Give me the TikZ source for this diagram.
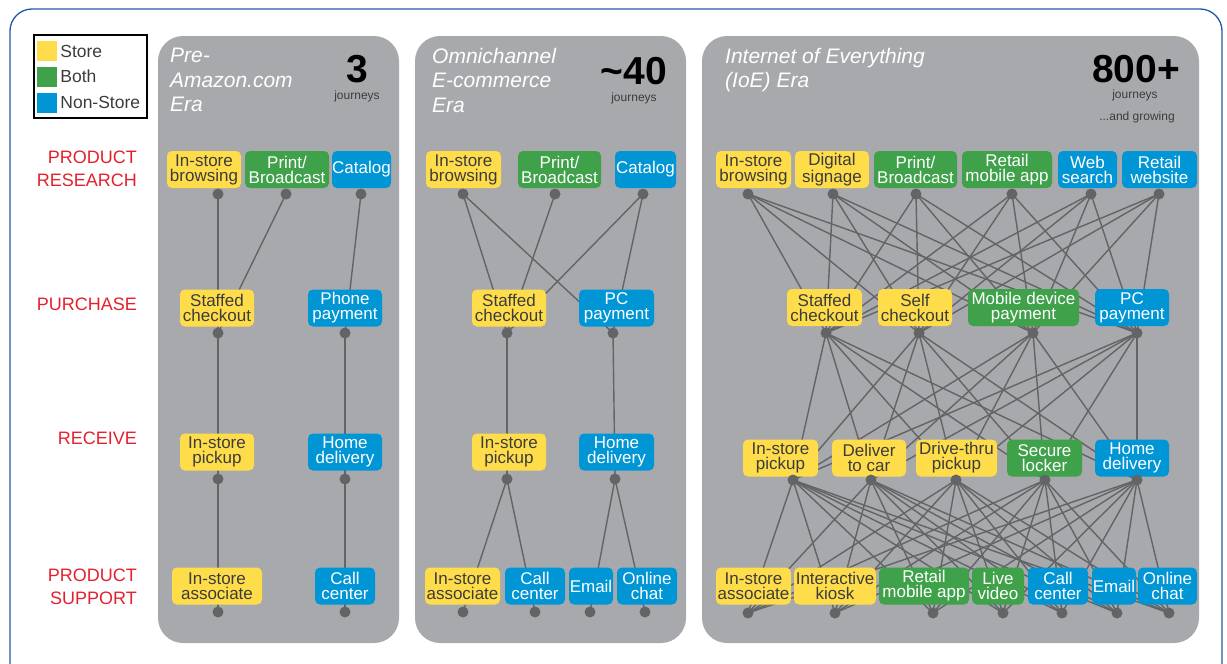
\documentclass[tikz,border=0pt]{standalone}
\usepackage{fontspec}
\setmainfont{Liberation Sans}
\usetikzlibrary{positioning}
\definecolor{storeyellow}{HTML}{FFDD4A}
\definecolor{bothgreen}{HTML}{3FA14A}
\definecolor{nonblue}{HTML}{0096D6}
\definecolor{panelgray}{HTML}{A7A9AC}
\definecolor{dotgray}{HTML}{636466}
\definecolor{stagered}{HTML}{E4202E}
\definecolor{framecol}{HTML}{2457A6}
\definecolor{boxtext}{HTML}{3C3C3C}
\pgfdeclarelayer{back}
\pgfdeclarelayer{edges}
\pgfsetlayers{back,edges,main}
\tikzset{
  box/.style={rounded corners=5pt, minimum height=37, inner sep=0pt, align=center,
    font=\fontsize{17}{15}\selectfont},
  store/.style={box, fill=storeyellow, text=boxtext},
  both/.style={box, fill=bothgreen, text=white},
  nonstore/.style={box, fill=nonblue, text=white},
  dot/.style={circle, fill=dotgray, inner sep=0pt, minimum size=11},
  link/.style={draw=dotgray, line width=1.4pt},
  panel/.style={fill=panelgray, rounded corners=25pt},
  stagelabel/.style={text=stagered, align=right, anchor=east, inner sep=0pt,
    font=\fontsize{18}{23}\selectfont},
  era/.style={anchor=north west, align=left, text=white, inner sep=0pt,
    font=\itshape\fontsize{21}{24.5}\selectfont},
  count/.style={inner sep=0pt, text=black, font=\bfseries\fontsize{39}{39}\selectfont},
  journeys/.style={inner sep=0pt, text=boxtext, font=\fontsize{12}{12}\selectfont},
  legendkey/.style={minimum size=20, inner sep=0pt},
  legendtext/.style={inner sep=0pt, text=boxtext, font=\fontsize{17.5}{17.5}\selectfont}
}
\begin{document}
\begin{tikzpicture}[x=1pt,y=-1pt]
  \useasboundingbox (0,0) rectangle (1227,664);
  \clip (0,0) rectangle (1227,664);
  %% outer frame
  \draw[framecol, line width=1.3pt, rounded corners=22pt] (10,9) rectangle (1222,720);
  %% legend
  \draw[line width=2pt] (34,35) rectangle (147,118);
  \node[legendkey, fill=storeyellow] (keystore) at (47,51) {};
  \node[legendkey, fill=bothgreen] (keyboth) at (47,76.5) {};
  \node[legendkey, fill=nonblue] (keynon) at (47,102.5) {};
  \node[legendtext, right=3pt of keystore] (txtstore) {Store};
  \node[legendtext, right=3pt of keyboth] (txtboth) {Both};
  \node[legendtext, right=3pt of keynon] (txtnon) {Non-Store};
  %% stage labels
  \node[stagelabel] (research) at (137,168.5) {PRODUCT\\RESEARCH};
  \node[stagelabel] (purchase) at (137,304) {PURCHASE};
  \node[stagelabel] (receive) at (137,438) {RECEIVE};
  \node[stagelabel] (support) at (137,586.5) {PRODUCT\\SUPPORT};
  %% panels
  \begin{pgfonlayer}{back}
    \fill[panel] (158,36) rectangle (399,643);
    \fill[panel] (415,36) rectangle (686,643);
    \fill[panel] (702,36) rectangle (1199,643);
  \end{pgfonlayer}
  %% era titles and counts
  \node[era] (era1) at (170,48) {Pre-\\Amazon.com\\Era};
  \node[era] (era2) at (432,48) {Omnichannel\\E-commerce\\Era};
  \node[era] (era3) at (725,48) {Internet of Everything\\(IoE) Era};
  \node[count] (num1) at (357,69) {3};
  \node[journeys] (jour1) at (357,96) {journeys};
  \node[count] (num2) at (634,71) {\textasciitilde40};
  \node[journeys] (jour2) at (634,98) {journeys};
  \node[count] (num3) at (1136,69) {800+};
  \node[journeys] (jour3) at (1135,95) {journeys};
  \node[journeys] (grow3) at (1137,117) {...and growing};
  %% pre-Amazon.com era
  \node[store, minimum width=74] (p1a) at (204,169.5) {In-store\\browsing};
  \node[both, minimum width=84] (p1b) at (287,169.5) {Print/\\Broadcast};
  \node[nonstore, minimum width=59] (p1c) at (361.5,169.5) {Catalog};
  \node[store, minimum width=74] (p1d) at (217,308) {Staffed\\checkout};
  \node[nonstore, minimum width=74] (p1e) at (345,308) {Phone\\payment};
  \node[store, minimum width=74] (p1f) at (217,452) {In-store\\pickup};
  \node[nonstore, minimum width=74] (p1g) at (345,452) {Home\\delivery};
  \node[store, minimum width=90] (p1h) at (217,586) {In-store\\associate};
  \node[nonstore, minimum width=60] (p1i) at (345,586) {Call\\center};
  %% omnichannel era
  \node[store, minimum width=75] (p2a) at (463.5,169.5) {In-store\\browsing};
  \node[both, minimum width=83] (p2b) at (559.5,169.5) {Print/\\Broadcast};
  \node[nonstore, minimum width=61] (p2c) at (645.5,169.5) {Catalog};
  \node[store, minimum width=74] (p2d) at (509,308) {Staffed\\checkout};
  \node[nonstore, minimum width=75] (p2e) at (616.5,308) {PC\\payment};
  \node[store, minimum width=74] (p2f) at (509,452) {In-store\\pickup};
  \node[nonstore, minimum width=75] (p2g) at (616.5,452) {Home\\delivery};
  \node[store, minimum width=75] (p2h) at (462.5,586) {In-store\\associate};
  \node[nonstore, minimum width=60] (p2i) at (535,586) {Call\\center};
  \node[nonstore, minimum width=44] (p2j) at (591,586) {Email};
  \node[nonstore, minimum width=60] (p2k) at (647,586) {Online\\chat};
  %% IoE era
  \node[store, minimum width=75] (p3a) at (753.5,169.5) {In-store\\browsing};
  \node[store, minimum width=74] (p3b) at (832,169.5) {Digital\\signage};
  \node[both, minimum width=83] (p3c) at (915.5,169.5) {Print/\\Broadcast};
  \node[both, minimum width=90] (p3d) at (1007,169.5) {Retail\\mobile app};
  \node[nonstore, minimum width=59] (p3e) at (1087.5,169.5) {Web\\search};
  \node[nonstore, minimum width=75] (p3f) at (1159.5,169.5) {Retail\\website};
  \node[store, minimum width=75] (p3g) at (824.5,307.5) {Staffed\\checkout};
  \node[store, minimum width=74] (p3h) at (915,307.5) {Self\\checkout};
  \node[both, minimum width=111] (p3i) at (1023.5,307.5) {Mobile device\\payment};
  \node[nonstore, minimum width=74] (p3j) at (1132,307.5) {PC\\payment};
  \node[store, minimum width=75] (p3k) at (780.5,458) {In-store\\pickup};
  \node[store, minimum width=74] (p3l) at (869,458) {Deliver\\to car};
  \node[store, minimum width=81] (p3m) at (956.5,458) {Drive-thru\\pickup};
  \node[both, minimum width=75] (p3n) at (1044.5,458) {Secure\\locker};
  \node[nonstore, minimum width=74] (p3o) at (1132,458) {Home\\delivery};
  \node[store, minimum width=75] (p3p) at (753.5,586) {In-store\\associate};
  \node[store, minimum width=82] (p3q) at (835,586) {Interactive\\kiosk};
  \node[both, minimum width=90] (p3r) at (924,586) {Retail\\mobile app};
  \node[both, minimum width=52] (p3s) at (998,586) {Live\\video};
  \node[nonstore, minimum width=60] (p3t) at (1058,586) {Call\\center};
  \node[nonstore, minimum width=44] (p3u) at (1114,586) {Email};
  \node[nonstore, minimum width=59] (p3v) at (1167.5,586) {Online\\chat};
  %% dots under the boxes
  \foreach \n/\x/\y in {p1a/218/194, p1b/286/194, p1c/361/194, p1d/218/333, p1e/345/333,
      p1f/218/479, p1g/345/479, p1h/218/612, p1i/345/612,
      p2a/463/194, p2b/555/194, p2c/643/194, p2d/507/333, p2e/613/333,
      p2f/507/479, p2g/615/479, p2h/463/612, p2i/535/612, p2j/590/612, p2k/645/612,
      p3a/748/194, p3b/833/194, p3c/916/194, p3d/1012/194, p3e/1091/194, p3f/1159/194,
      p3g/826/333, p3h/919/333, p3i/1033/333, p3j/1137/333,
      p3k/793/480, p3l/871/480, p3m/956/480, p3n/1045/480, p3o/1137/480,
      p3p/748/613, p3q/835/613, p3r/933/613, p3s/1003/613, p3t/1062/613, p3u/1117/613, p3v/1169/613}
    \node[dot] (\n-d) at (\x,\y) {};
  %% journeys
  \begin{pgfonlayer}{edges}
    \foreach \s/\t in {p1a/p1d, p1b/p1d, p1c/p1e, p1d/p1f, p1e/p1g, p1f/p1h, p1g/p1i,
        p2a/p2d, p2a/p2e, p2b/p2d, p2c/p2d, p2c/p2e, p2d/p2f, p2e/p2g,
        p2f/p2h, p2f/p2i, p2g/p2j, p2g/p2k}
      \draw[link] (\s-d.center) -- (\t-d.center);
    \foreach \s in {p3a,p3b,p3c,p3d,p3e,p3f}
      \foreach \t in {p3g,p3h,p3i,p3j}
        \draw[link] (\s-d.center) -- (\t-d.center);
    \foreach \s in {p3g,p3h,p3i,p3j}
      \foreach \t in {p3k,p3l,p3m,p3n,p3o}
        \draw[link] (\s-d.center) -- (\t-d.center);
    \foreach \s in {p3k,p3l,p3m,p3n,p3o}
      \foreach \t in {p3p,p3q,p3r,p3s,p3t,p3u,p3v}
        \draw[link] (\s-d.center) -- (\t-d.center);
  \end{pgfonlayer}
\end{tikzpicture}
\end{document}
